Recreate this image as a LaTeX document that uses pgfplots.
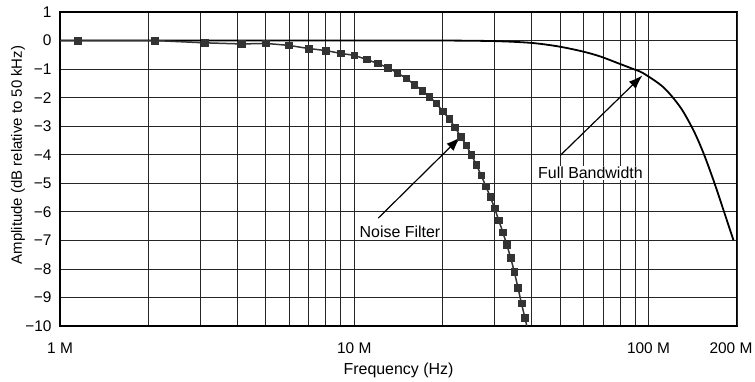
\documentclass[border=0pt]{standalone}
\usepackage{pgfplots}
\pgfplotsset{compat=1.18}
\usepackage{fontspec}
\setmainfont{Liberation Sans}
\usetikzlibrary{arrows.meta}
\begin{document}
\begin{tikzpicture}
\begin{axis}[
  at={(0,0)}, anchor=south west,
  scale only axis, width=677bp, height=314bp,
  xmode=log, xmin=1e6, xmax=2e8, ymin=-10, ymax=1,
  xtick={1e6,1e7,1e8},
  xticklabels={1 M,10 M,100 M},
  extra x ticks={2e8},
  extra x tick labels={200 M},
  extra x tick style={grid=major, xticklabel style={xshift=-6bp}},
  minor xtick={2e6,3e6,4e6,5e6,6e6,7e6,8e6,9e6,2e7,3e7,4e7,5e7,6e7,7e7,8e7,9e7},
  ytick={-10,-9,-8,-7,-6,-5,-4,-3,-2,-1,0,1},
  yticklabels={−10,−9,−8,−7,−6,−5,−4,−3,−2,−1,0,1},
  grid=both,
  major grid style={black!85, line width=0.7bp},
  minor grid style={black!85, line width=0.7bp},
  axis line style={line width=1.6bp},
  tick style={draw=none},
  tick label style={font=\fontsize{15.5}{18}\selectfont},
  xticklabel style={anchor=center, yshift=-22bp},
  yticklabel style={anchor=east, xshift=-5bp},
  xlabel={Frequency (Hz)},
  ylabel={Amplitude (dB relative to 50 kHz)},
  xlabel style={font=\fontsize{16}{18}\selectfont, at={(rel axis cs:0.5,0)}, anchor=center, yshift=-44bp},
  ylabel style={font=\fontsize{15}{17}\selectfont, at={(rel axis cs:0,0.5)}, anchor=center, xshift=14bp, yshift=42bp},
]
% Full bandwidth
\addplot[black, line width=1.8bp, smooth] coordinates {
 (1e6,0) (5e6,0) (10e6,0) (20e6,0) (30e6,-0.02) (39.7e6,-0.08) (49e6,-0.2)
 (59.6e6,-0.38) (68.7e6,-0.56) (79.1e6,-0.8) (88.9e6,-1.0) (96.2e6,-1.15)
 (112.5e6,-1.64) (128.4e6,-2.34) (142.3e6,-3.15) (153.9e6,-3.95)
 (166.4e6,-4.9) (179.9e6,-5.94) (194.6e6,-7.0)
};
% Noise filter line
\addplot[black!80, line width=1.5bp] coordinates {
 (1e6,0) (1.15e6,0) (2.1e6,0) (3.1e6,-0.08) (4.15e6,-0.12) (5e6,-0.1) (6e6,-0.17)
 (7e6,-0.28) (8e6,-0.35) (9e6,-0.45) (10e6,-0.52) (11e6,-0.66) (12e6,-0.8)
 (13e6,-0.95) (14e6,-1.13) (15e6,-1.32) (16e6,-1.54) (17e6,-1.75) (18e6,-1.96)
 (19e6,-2.2) (20e6,-2.48) (21e6,-2.73) (22e6,-3.04) (23e6,-3.36) (24e6,-3.66)
 (25e6,-4.0) (26e6,-4.35) (27e6,-4.72) (28e6,-5.1) (29e6,-5.47) (30e6,-5.88)
 (31e6,-6.3) (32e6,-6.72) (33e6,-7.15) (34e6,-7.6) (35e6,-8.1) (36e6,-8.65)
 (37e6,-9.2) (38e6,-9.7) (38.6e6,-10)
};
% Noise filter marks
\addplot[only marks, mark=square*, mark size=3.3bp, black!80] coordinates {
 (1.15e6,0) (2.1e6,0) (3.1e6,-0.08) (4.15e6,-0.12) (5e6,-0.1) (6e6,-0.17)
 (7e6,-0.28) (8e6,-0.35) (9e6,-0.45) (10e6,-0.52) (11e6,-0.66) (12e6,-0.8)
 (13e6,-0.95) (14e6,-1.13) (15e6,-1.32) (16e6,-1.54) (17e6,-1.75) (18e6,-1.96)
 (19e6,-2.2) (20e6,-2.48) (21e6,-2.73) (22e6,-3.04) (23e6,-3.36) (24e6,-3.66)
 (25e6,-4.0) (26e6,-4.35) (27e6,-4.72) (28e6,-5.1) (29e6,-5.47) (30e6,-5.88)
 (31e6,-6.3) (32e6,-6.72) (33e6,-7.15) (34e6,-7.6) (35e6,-8.1) (36e6,-8.65)
 (37e6,-9.2) (38e6,-9.7)
};
\draw[black, line width=1.2bp, -{Latex[length=14bp,width=10bp]}] (axis cs:12.07e6,-6.22) -- (axis cs:22.9e6,-3.39);
\draw[black, line width=1.2bp, -{Latex[length=14bp,width=10bp]}] (axis cs:50.2e6,-4.02) -- (axis cs:95.4e6,-1.22);
\node[fill=white, inner sep=1bp, font=\fontsize{16}{18}\selectfont] at (axis cs:14.3e6,-6.71) {Noise Filter};
\node[fill=white, inner sep=1bp, font=\fontsize{16}{18}\selectfont] at (axis cs:63.5e6,-4.65) {Full Bandwidth};
\end{axis}
\pgfresetboundingbox
\path[use as bounding box] (-60bp,-56bp) rectangle (695bp,326bp);
\end{tikzpicture}
\end{document}
